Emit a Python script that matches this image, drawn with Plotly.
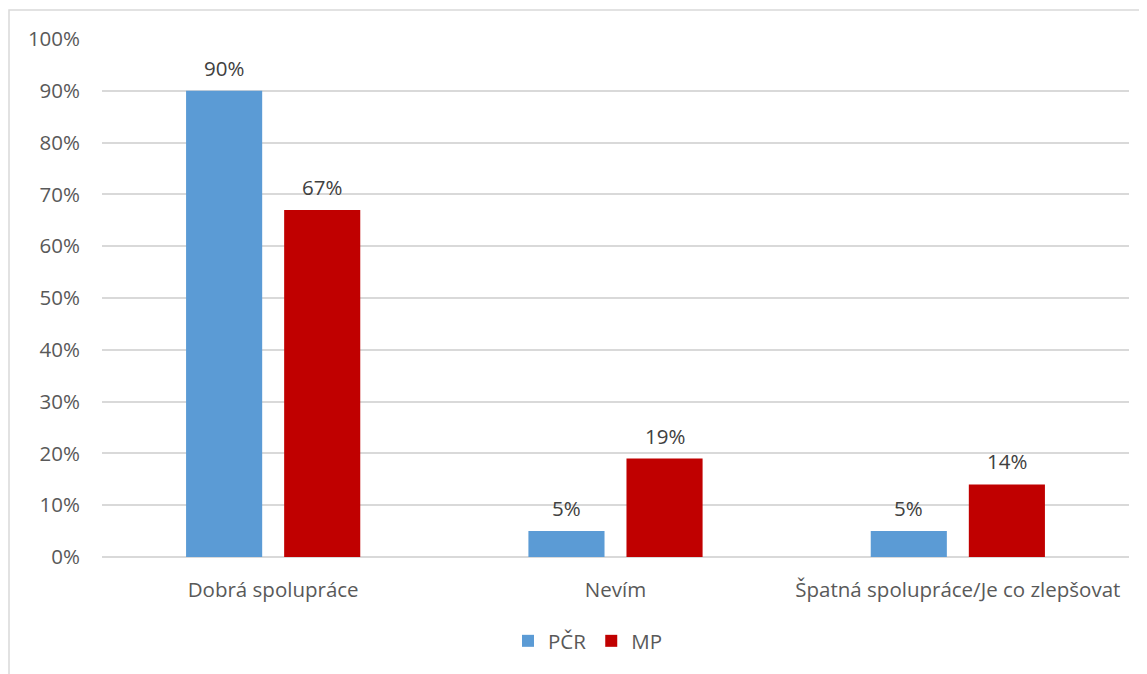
import plotly.graph_objects as go

categories = ["Dobrá spolupráce", "Nevím", "Špatná spolupráce/Je co zlepšovat"]
pcr_values = [0.90, 0.05, 0.05]
mp_values = [0.67, 0.19, 0.14]
series_names = ["PČR", "MP"]
colors = ["#5B9BD5", "#C00000"]
ytick_vals = [i / 10 for i in range(11)]
ytick_text = [f"{i*10}%" for i in range(11)]

FONT = "Open Sans"
GRAY = "#595959"
FS = 20.5

fig = go.Figure()
for name, vals, col in zip(series_names, [pcr_values, mp_values], colors):
    fig.add_trace(go.Bar(name=name, x=categories, y=vals, marker=dict(color=col, line=dict(width=0))))

annotations = []
for idx, vals in enumerate([pcr_values, mp_values]):
    shift = -49 if idx == 0 else 49
    for c, v in zip(categories, vals):
        annotations.append(dict(x=c, y=v, xref="x", yref="y", text=f"{round(v*100)}%",
                                showarrow=False, xshift=shift, yshift=23,
                                font=dict(family=FONT, size=FS, color="#404040")))

# page body has 8px offset
W, H = 1147, 674
L, T = 94, 31
R = W - 1121
B = H - 549
pw, ph = W - L - R, H - T - B

fig.update_layout(
    width=W, height=H,
    margin=dict(l=L, r=R, t=T, b=B),
    paper_bgcolor="white", plot_bgcolor="white",
    barmode="group", bargap=0.427, bargroupgap=0.224,
    font=dict(family=FONT, size=FS, color=GRAY),
    annotations=annotations,
    legend=dict(orientation="h", x=(580 - L) / pw, xanchor="center", y=(549 - 633) / ph, yanchor="middle",
                font=dict(family=FONT, size=FS, color=GRAY), traceorder="normal"),
    shapes=[dict(type="rect", xref="paper", yref="paper",
                 x0=(1 - L) / pw, x1=(1200 - L) / pw, y0=(549 - 700) / ph, y1=1 + (T - 2) / ph,
                 line=dict(color="#D9D9D9", width=1.5), fillcolor="rgba(0,0,0,0)", layer="below")],
)
fig.update_yaxes(range=[0, 1], tickvals=ytick_vals, ticktext=ytick_text, showgrid=True,
                 gridcolor="#D9D9D9", gridwidth=1.5, zeroline=True, zerolinecolor="#D9D9D9",
                 zerolinewidth=1.5, showline=False, ticks="", ticklabelstandoff=21,
                 tickfont=dict(family=FONT, size=FS, color=GRAY))
fig.update_xaxes(showgrid=False, showline=False, ticks="", ticklabelstandoff=18,
                 tickfont=dict(family=FONT, size=FS, color=GRAY))

fig.write_html("out.html")
